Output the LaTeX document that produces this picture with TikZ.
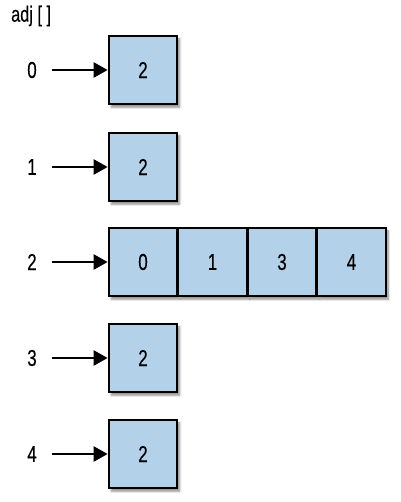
\documentclass[tikz,border=0pt]{standalone}
\usepackage{fontspec}
\setmainfont{Liberation Sans}[FakeStretch=0.74,FakeBold=0.3]
\usetikzlibrary{arrows.meta,shadows.blur}
\definecolor{cellblue}{HTML}{B3D1E8}
\begin{document}
\begin{tikzpicture}[x=1pt,y=-1pt,
  cell/.style={draw=black,line width=2.2pt,fill=cellblue,minimum size=68.5pt,inner sep=0pt,
    font=\fontsize{23}{26}\selectfont,
    blur shadow={shadow xshift=2.5pt,shadow yshift=-3pt,shadow blur steps=6,shadow opacity=45}},
  idx/.style={font=\fontsize{23}{26}\selectfont,inner sep=0pt},
  ptr/.style={line width=2.3pt,-{Triangle[length=14pt,width=15pt]}}]
\useasboundingbox (0,0) rectangle (400,502);
\node[font=\fontsize{22}{24}\selectfont,anchor=west,inner sep=0pt] (title) at (11,16) {adj [ ]};
% rows
\foreach \r/\y in {0/70,1/167,3/358,4/454}{
  \node[cell] (b\r) at (143,\y) {2};
  \node[idx] (l\r) at (32,\y) {\r};
  \draw[ptr] ([xshift=15pt]l\r.east) -- (b\r.west);
}
\node[cell] (c0) at (143,262) {0};
\node[cell] (c1) at (212.5,262) {1};
\node[cell] (c3) at (282,262) {3};
\node[cell] (c4) at (351.5,262) {4};
\node[idx] (l2) at (32,262) {2};
\draw[ptr] ([xshift=15pt]l2.east) -- (c0.west);
\end{tikzpicture}
\end{document}
